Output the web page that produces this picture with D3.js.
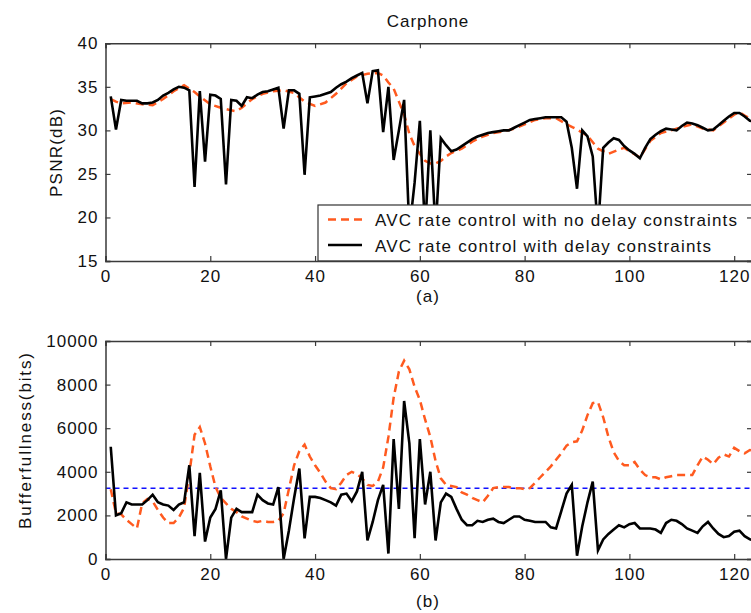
<!DOCTYPE html>
<html><head><meta charset="utf-8">
<script src="https://cdn.jsdelivr.net/npm/d3@7/dist/d3.min.js"></script>
<style>
html,body{margin:0;padding:0;background:#fff;}
svg text{font-family:"Liberation Sans",Arial,sans-serif;font-size:17px;letter-spacing:1px;fill:#111;}
</style></head><body>
<svg id="chart" width="751" height="613"></svg>
<script>
// ---------- data ----------
const title = "Carphone";
const xTicks = [0, 20, 40, 60, 80, 100, 120];
const psnrTicks = [15, 20, 25, 30, 35, 40];
const bufTicks = [0, 2000, 4000, 6000, 8000, 10000];
const legendLabels = ["AVC rate control with no delay constraints", "AVC rate control with delay constraints"];

// PSNR, with delay constraints (black)
const psnrDelayFrames = [];
for (let i = 1; i <= 124; i++) psnrDelayFrames.push(i);
const psnrDelay = [33.9,30.1,33.5,33.4,33.4,33.4,33.1,33.1,33.2,33.5,
  34.0,34.3,34.7,35.0,34.9,34.6,23.5,34.5,26.4,34.1,
  34.0,33.6,23.8,33.5,33.4,32.8,33.8,33.7,34.1,34.4,
  34.5,34.7,34.9,30.2,34.6,34.6,34.2,24.9,33.8,33.9,
  34.0,34.2,34.4,34.9,35.3,35.6,36.0,36.3,36.6,33.1,
  36.8,36.9,29.8,35.0,26.6,30.0,33.5,18.5,24.0,31.1,
  18.5,30.0,18.5,29.1,28.3,27.6,27.8,28.2,28.6,29.0,
  29.3,29.5,29.7,29.8,29.9,30.0,30.0,30.3,30.6,30.9,
  31.2,31.3,31.4,31.5,31.5,31.5,31.5,31.0,28.0,23.3,
  30.0,29.3,27.0,18.5,28.0,28.6,29.1,28.9,28.2,27.7,
  27.3,26.8,28.0,29.0,29.5,29.9,30.2,30.1,30.0,30.5,
  30.9,30.8,30.6,30.3,30.0,30.1,30.6,31.1,31.6,32.0,
  32.0,31.6,31.1,31.0];

// PSNR, no delay constraints (orange dashed)
const psnrNoDelayFrames = [1,2,3,5,7,9,11,13,15,17,18,20,22,24,25,26,28,30,32,34,36,38,40,42,44,46,48,50,52,53,54,55,56,57,58,59,60,61,62,63,64,65,66,68,70,72,74,76,78,80,82,84,86,88,89,90,92,94,96,98,99,100,102,104,106,108,110,112,114,116,118,120,121,122,124];
const psnrNoDelay = [33.6,33.3,33.1,33.2,33.0,32.9,33.6,34.5,35.2,34.4,33.9,33.0,32.6,32.3,32.2,32.6,33.6,34.2,34.5,34.6,34.3,33.3,32.8,33.2,34.2,35.4,36.2,36.5,36.6,36.3,35.5,34.8,33.3,31.8,29.6,28.2,27.3,26.5,26.2,26.2,26.5,27.0,27.4,27.9,28.7,29.3,29.7,29.9,30.2,30.7,31.2,31.4,31.4,30.7,30.4,30.1,29.4,27.9,27.3,27.8,28.0,27.6,26.9,28.8,29.7,30.0,30.4,30.7,30.2,30.0,30.9,31.8,32.1,31.7,31.0];

// Buffer fullness, with delay constraints (black)
const bufDelayFrames = psnrDelayFrames;
const bufDelay = [5150,2000,2100,2600,2500,2500,2500,2700,2950,2600,
  2500,2450,2250,2500,2600,4300,1050,3950,800,1900,
  2300,3150,0,1900,2300,2150,2150,2150,2950,2700,
  2550,2500,3300,0,1300,2800,4150,950,2850,2850,
  2800,2700,2600,2450,2950,3000,2650,3100,4000,850,
  1700,2700,3400,250,5500,2300,7250,5300,950,5500,
  2500,4000,850,2600,3000,2850,2300,1800,1550,1550,
  1750,1700,1800,1850,1700,1650,1800,1950,1950,1800,
  1750,1700,1700,1700,1450,1400,2200,3000,3400,150,
  1500,2600,3550,400,900,1150,1350,1550,1450,1600,
  1650,1400,1400,1400,1350,1200,1650,1800,1750,1600,
  1400,1300,1200,1500,1700,1400,1150,1000,1050,1250,
  1300,1050,900,850];

// Buffer fullness, no delay constraints (orange dashed)
const bufNoDelayFrames = psnrDelayFrames;
const bufNoDelay = [3200,2100,2050,1800,1600,1400,2550,2750,2650,2250,
  1900,1650,1650,1900,2350,3900,5700,6050,5300,4250,
  3300,2800,2550,2300,2150,1950,1850,1750,1700,1750,
  1700,1700,1750,2100,3200,4300,4950,5250,4700,4300,
  3950,3550,3250,3200,3500,3850,4000,3900,3700,3400,
  3350,3550,4200,5600,7400,8600,9100,8700,7900,7300,
  6400,5600,4500,3700,3400,3350,3300,3050,2950,2800,
  2700,2600,2900,3250,3300,3300,3300,3250,3250,3200,
  3250,3500,3750,4000,4250,4550,4850,5200,5350,5400,
  5900,6600,7150,7200,6500,5600,4900,4500,4300,4300,
  4450,4100,3850,3750,3750,3650,3750,3800,3850,3850,
  3850,3850,4300,4700,4550,4350,4650,4800,4700,5100,
  4950,4850,5000,4950];

// Buffer target level (blue dashed)
const bufTarget = 3240;

// ---------- layout ----------
const svg = d3.select("#chart");
const L = 105.5, R = 752;
const topP = {t: 43.3, b: 261};
const botP = {t: 341, b: 559};
const orange = "#ff5a1f";

const x = d3.scaleLinear().domain([0, 123.4]).range([L, R]);
const yP = d3.scaleLinear().domain([15, 40]).range([topP.b, topP.t]);
const yB = d3.scaleLinear().domain([0, 10000]).range([botP.b, botP.t]);

const defs = svg.append("defs");
defs.append("clipPath").attr("id","clipTop").append("rect")
  .attr("x", L).attr("y", topP.t).attr("width", R - L).attr("height", topP.b - topP.t);
defs.append("clipPath").attr("id","clipBot").append("rect")
  .attr("x", L).attr("y", botP.t).attr("width", R - L).attr("height", botP.b - botP.t);

function drawAxes(y, panel, ticks, fmt) {
  const g = svg.append("g");
  const bottom = g.append("g").attr("transform", `translate(0,${panel.b})`)
    .call(d3.axisBottom(x).tickValues(xTicks).tickSize(-5).tickPadding(9).tickFormat(d3.format("d")));
  const top = g.append("g").attr("transform", `translate(0,${panel.t})`)
    .call(d3.axisTop(x).tickValues(xTicks).tickSize(-5).tickFormat(""));
  const left = g.append("g").attr("transform", `translate(${L},0)`)
    .call(d3.axisLeft(y).tickValues(ticks).tickSize(-5).tickPadding(7).tickFormat(fmt));
  const right = g.append("g").attr("transform", `translate(${R},0)`)
    .call(d3.axisRight(y).tickValues(ticks).tickSize(-5).tickFormat(""));
  g.selectAll(".domain").attr("stroke", "#3a3a3a").attr("stroke-width", 1.5);
  g.selectAll(".tick line").attr("stroke", "#3a3a3a").attr("stroke-width", 1.2);
  g.selectAll(".tick text").attr("font-family", null).attr("font-size", null).style("fill", "#111");
  return g;
}

// ---------- top panel ----------
const lineP = (fr, vals) => d3.line().x((d, i) => x(fr[i])).y(d => yP(d))(vals);
const lineB = (fr, vals) => d3.line().x((d, i) => x(fr[i])).y(d => yB(d))(vals);

const gTop = svg.append("g").attr("clip-path", "url(#clipTop)");
gTop.append("path").attr("d", lineP(psnrNoDelayFrames, psnrNoDelay))
  .attr("fill", "none").attr("stroke", orange).attr("stroke-width", 2.5).attr("stroke-dasharray", "8,5");
gTop.append("path").attr("d", lineP(psnrDelayFrames, psnrDelay))
  .attr("fill", "none").attr("stroke", "#000").attr("stroke-width", 2.6).attr("stroke-linejoin", "miter");

// legend (over lines)
const leg = svg.append("g");
leg.append("rect").attr("x", 318).attr("y", 205).attr("width", 450).attr("height", topP.b - 205)
  .attr("fill", "#fff").attr("stroke", "#333").attr("stroke-width", 1.2);
leg.append("line").attr("x1", 328).attr("x2", 362).attr("y1", 219.5).attr("y2", 219.5)
  .attr("stroke", orange).attr("stroke-width", 2.5).attr("stroke-dasharray", "8,5");
leg.append("line").attr("x1", 328).attr("x2", 362).attr("y1", 245).attr("y2", 245)
  .attr("stroke", "#000").attr("stroke-width", 2.6);
leg.append("text").attr("x", 375).attr("y", 226).text(legendLabels[0])
  .attr("textLength", 363).attr("lengthAdjust", "spacing");
leg.append("text").attr("x", 375).attr("y", 251.5).text(legendLabels[1])
  .attr("textLength", 337).attr("lengthAdjust", "spacing");

drawAxes(yP, topP, psnrTicks, d3.format("d"));

// ---------- bottom panel ----------
const gBot = svg.append("g").attr("clip-path", "url(#clipBot)");
gBot.append("line").attr("x1", L).attr("x2", R).attr("y1", yB(bufTarget)).attr("y2", yB(bufTarget))
  .attr("stroke", "#1010ff").attr("stroke-width", 1.5).attr("stroke-dasharray", "5,4");
gBot.append("path").attr("d", lineB(bufNoDelayFrames, bufNoDelay))
  .attr("fill", "none").attr("stroke", orange).attr("stroke-width", 2.5).attr("stroke-dasharray", "8,5");
gBot.append("path").attr("d", lineB(bufDelayFrames, bufDelay))
  .attr("fill", "none").attr("stroke", "#000").attr("stroke-width", 2.6);

drawAxes(yB, botP, bufTicks, d3.format("d"));

// ---------- texts ----------
svg.append("text").attr("x", 428).attr("y", 26.5).attr("text-anchor", "middle").text(title);
svg.append("text").attr("x", 428).attr("y", 302).attr("text-anchor", "middle").text("(a)");
svg.append("text").attr("x", 428).attr("y", 607).attr("text-anchor", "middle").text("(b)");
svg.append("text").attr("transform", "translate(62,152.5) rotate(-90)").attr("text-anchor", "middle")
  .attr("textLength", 89).attr("lengthAdjust", "spacing").text("PSNR(dB)");
svg.append("text").attr("transform", "translate(31,440.5) rotate(-90)").attr("text-anchor", "middle")
  .attr("textLength", 177).attr("lengthAdjust", "spacing").text("Bufferfullness(bits)");
</script>
</body></html>
